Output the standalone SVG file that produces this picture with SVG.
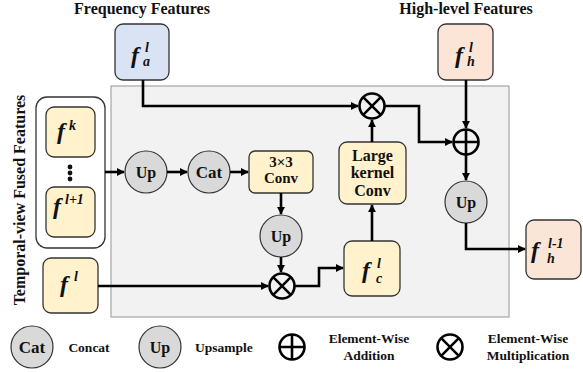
<svg xmlns="http://www.w3.org/2000/svg" width="583" height="372" viewBox="0 0 583 372" font-family="'Liberation Serif', 'DejaVu Serif', serif">
<defs>
<marker id="ah" viewBox="0 0 10 10" refX="9" refY="5" markerWidth="3.2" markerHeight="3.2" orient="auto" markerUnits="strokeWidth">
<path d="M0,0 L10,5 L0,10 z" fill="#000"/>
</marker>
<style>
text{font-family:'Liberation Serif','DejaVu Serif',serif;font-weight:bold;fill:#111}
.t16{font-size:16px;text-anchor:middle}
.t15{font-size:15px;text-anchor:middle}
.t13{font-size:13.5px;text-anchor:middle}
.fv{font-size:24px;font-style:italic}
.sc{font-size:14px;font-style:italic}
.yel{fill:#fff2cc;stroke:#333;stroke-width:1.3}
.blue{fill:#dae3f3;stroke:#333;stroke-width:1.3}
.peach{fill:#fbe5d6;stroke:#333;stroke-width:1.3}
.gc{fill:#d9d9d9;stroke:#333;stroke-width:1.2}
.op{fill:none;stroke:#000;stroke-width:2.6}
.cn{fill:none;stroke:#000;stroke-width:2.6;marker-end:url(#ah)}
</style>
</defs>
<rect x="111" y="86" width="398" height="231" fill="#f2f2f2" stroke="#a6a6a6" stroke-width="1.2"/>
<text class="t16" x="142" y="14">Frequency Features</text>
<text class="t16" x="466" y="14">High-level Features</text>
<text class="t16" x="25" y="200" transform="rotate(-90 25 200)">Temporal-view Fused Features</text>

<g id="group-left"><rect x="36" y="97" width="69" height="151" rx="11" fill="#fff" stroke="#333" stroke-width="1.3"/>
<circle cx="70" cy="167" r="2.4" fill="#111"/><circle cx="70" cy="173" r="2.4" fill="#111"/><circle cx="70" cy="179" r="2.4" fill="#111"/></g>
<g id="fk"><rect class="yel" x="46" y="107" width="49" height="50" rx="8"/><text class="fv" x="57" y="139">f</text><text class="sc" x="69" y="130">k</text></g>
<g id="fl1"><rect class="yel" x="46" y="187" width="49" height="50" rx="8"/><text class="fv" x="53" y="214">f</text><text class="sc" x="65" y="204">l+1</text></g>
<g id="fl"><rect class="yel" x="43" y="258" width="55" height="55" rx="8"/><text class="fv" x="60" y="292">f</text><text class="sc" x="74" y="281">l</text></g>
<g id="fa"><rect class="blue" x="115" y="24" width="54" height="56" rx="8"/><text class="fv" x="131" y="63">f</text><text class="sc" x="145" y="52">l</text><text class="sc" x="143" y="66">a</text></g>
<g id="fh"><rect class="peach" x="438" y="24" width="55" height="56" rx="8"/><text class="fv" x="455" y="63">f</text><text class="sc" x="469" y="52">l</text><text class="sc" x="467" y="66">h</text></g>
<g id="fhl1"><rect class="peach" x="526" y="220" width="55" height="59" rx="8"/><text class="fv" x="531" y="258">f</text><text class="sc" x="548" y="248">l-1</text><text class="sc" x="547" y="263">h</text></g>
<g id="fc"><rect class="yel" x="344" y="241" width="56" height="55" rx="8"/><text class="fv" x="362" y="278">f</text><text class="sc" x="377" y="268">l</text><text class="sc" x="376" y="283">c</text></g>
<g id="up1"><circle class="gc" cx="146" cy="172" r="21"/><text class="t16" x="146" y="178">Up</text></g>
<g id="cat"><circle class="gc" cx="209" cy="172" r="21"/><text class="t16" x="209" y="178" style="font-size:17px">Cat</text></g>
<g id="conv3"><rect class="yel" x="249" y="151" width="64" height="42" rx="6"/><text class="t15" x="281" y="167">3×3</text><text class="t15" x="281" y="183">Conv</text></g>
<g id="up2"><circle class="gc" cx="281" cy="236" r="21"/><text class="t16" x="281" y="242">Up</text></g>
<g id="mul1"><circle class="op" cx="282" cy="286" r="12.5"/><path class="op" d="M273.2,277.2 L290.8,294.8 M290.8,277.2 L273.2,294.8"/></g>
<g id="lk"><rect class="yel" x="339" y="142" width="67" height="62" rx="8"/><text class="t16" x="372.5" y="161">Large</text><text class="t16" x="372.5" y="178">kernel</text><text class="t16" x="372.5" y="196">Conv</text></g>
<g id="mul2"><circle class="op" cx="372" cy="106" r="12.5"/><path class="op" d="M363.2,97.2 L380.8,114.8 M380.8,97.2 L363.2,114.8"/></g>
<g id="add"><circle class="op" cx="466" cy="142" r="12.5"/><path class="op" d="M453.5,142 L478.5,142 M466,129.5 L466,154.5"/></g>
<g id="up3"><circle class="gc" cx="466" cy="202" r="21"/><text class="t16" x="466" y="208">Up</text></g>

<g id="connectors">
<path class="cn" d="M105,172 L124,172"/>
<path class="cn" d="M167,172 L187,172"/>
<path class="cn" d="M230,172 L248,172"/>
<path class="cn" d="M281,193 L281,214"/>
<path class="cn" d="M281,257 L281,272"/>
<path class="cn" d="M98,286 L268,286"/>
<path class="cn" d="M294.5,286 L319,286 L319,268 L343,268"/>
<path class="cn" d="M372,241 L372,205"/>
<path class="cn" d="M372,142 L372,120"/>
<path class="cn" d="M143,80 L143,106 L358,106"/>
<path class="cn" d="M384.5,106 L419,106 L419,142 L452,142"/>
<path class="cn" d="M466,80 L466,128"/>
<path class="cn" d="M466,154.5 L466,180"/>
<path class="cn" d="M466,223 L466,249 L525,249"/>
</g>

<g id="legend">
<circle class="gc" cx="32" cy="347" r="21"/><text class="t16" x="32" y="353" style="font-size:17px">Cat</text>
<text class="t13" x="89" y="352">Concat</text>
<circle class="gc" cx="160" cy="347" r="21"/><text class="t16" x="160" y="353">Up</text>
<text class="t13" x="224" y="352">Upsample</text>
<circle class="op" cx="292" cy="347" r="12.5"/><path class="op" d="M279.5,347 L304.5,347 M292,334.5 L292,359.5"/>
<text class="t13" x="369" y="343">Element-Wise</text><text class="t13" x="369" y="360">Addition</text>
<circle class="op" cx="450" cy="347" r="12.5"/><path class="op" d="M441.2,338.2 L458.8,355.8 M458.8,338.2 L441.2,355.8"/>
<text class="t13" x="528" y="343">Element-Wise</text><text class="t13" x="528" y="360">Multiplication</text>
</g>
</svg>
